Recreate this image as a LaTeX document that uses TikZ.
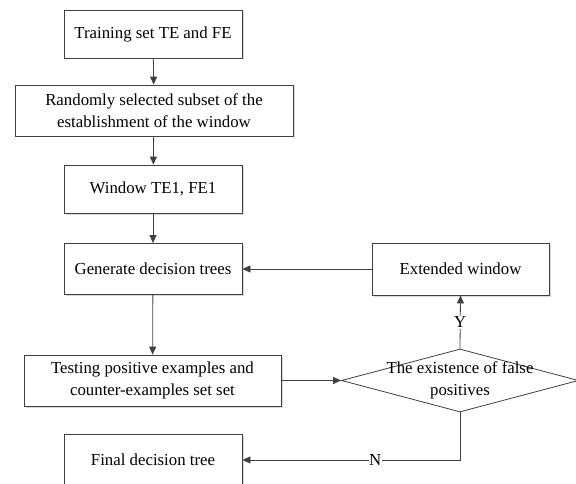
\documentclass[tikz,border=0pt]{standalone}
\usepackage{fontspec}
\setmainfont{Liberation Serif}
\usetikzlibrary{arrows.meta,shapes.geometric,shadows}
\definecolor{ln}{HTML}{404040}
\begin{document}
\begin{tikzpicture}[x=1pt,y=-1pt,
  every node/.style={font=\fontsize{16.8}{22.5}\selectfont},
  box/.style={draw=ln,line width=0.8pt,fill=white,inner sep=2pt,align=center,
    drop shadow={shadow xshift=1.5pt,shadow yshift=-1.5pt,fill=black!25,opacity=0.6}},
  arr/.style={draw=ln,line width=0.8pt,-{Triangle[length=8pt,width=7pt]}},
  lnk/.style={draw=ln,line width=0.8pt}]
\useasboundingbox (0,0) rectangle (576,484);
\begin{scope}
\clip (0,0) rectangle (576,484);
\node[box,minimum width=178pt,minimum height=48pt] (b1) at (153,34) {Training set TE and FE};
\node[box,minimum width=278pt,minimum height=51pt] (b2) at (154,110.5) {Randomly selected subset of the\\establishment of the window};
\node[box,minimum width=178pt,minimum height=48pt] (b3) at (153,189) {Window TE1, FE1};
\node[box,minimum width=178pt,minimum height=51pt] (b4) at (153,269) {Generate decision trees};
\node[box,minimum width=257pt,minimum height=51pt] (b5) at (152.5,380.5) {Testing positive examples and\\counter-examples set set};
\node[box,minimum width=178pt,minimum height=52pt] (b6) at (153,460) {Final decision tree};
\node[box,minimum width=177pt,minimum height=52pt] (b7) at (460.5,269) {Extended window};
\node[draw=ln,line width=0.8pt,fill=white,shape=diamond,minimum width=237pt,minimum height=63pt,inner sep=0pt] (d) at (460,380.5) {};
\node[align=center] (dt) at (d.center) {The existence of false\\positives};
\end{scope}
\draw[arr] (b1) -- (b2);
\draw[arr] (b2) -- (b3);
\draw[arr] (b3) -- (b4);
\draw[arr] (b4) -- (b5);
\draw[arr] (b5) -- (d.west);
\draw[arr] (d.north) -- node[fill=white,inner sep=1pt] {Y} (b7.south);
\draw[arr] (b7) -- (b4);
\draw[arr] (d.south) |- node[pos=0.695,fill=white,inner sep=0.5pt] {N} (b6.east);
\end{tikzpicture}
\end{document}
